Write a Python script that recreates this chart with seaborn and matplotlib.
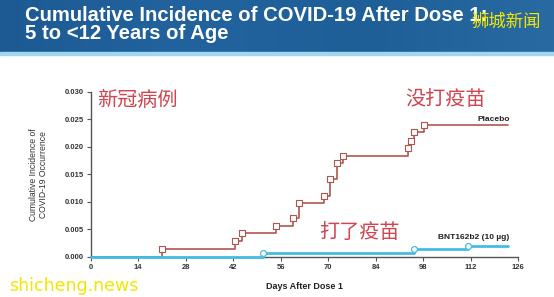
import numpy as np
import pandas as pd
import matplotlib
matplotlib.use("Agg")
import matplotlib.pyplot as plt
import seaborn as sns
from matplotlib.patches import Rectangle
from matplotlib.colors import LinearSegmentedColormap

# ---- data ----
placebo_days = [20.9, 42.5, 44.6, 54.7, 59.7, 61.4, 68.7, 70.7, 72.6, 74.5, 93.5, 94.4, 95.3, 98.4]
placebo_cum = [0.00135, 0.0028, 0.0043, 0.0056, 0.0070, 0.0098, 0.0111, 0.0141, 0.0170, 0.0183,
               0.0198, 0.0211, 0.0226, 0.0240]
vaccine_days = [50.9, 95.3, 111.3]
vaccine_cum = [0.0007, 0.0014, 0.0020]
end_day = 123
x_ticks = [0, 14, 28, 42, 56, 70, 84, 98, 112, 126]
y_ticks = [0.000, 0.005, 0.010, 0.015, 0.020, 0.025, 0.030]

sns.set_style("ticks")
plt.rcParams['font.family'] = ['Liberation Sans', 'DejaVu Sans']

W, H = 554, 297
fig = plt.figure(figsize=(W / 100, H / 100), dpi=100)
fig.patch.set_facecolor("white")

# ---- header band ----
hb = 53
hax = fig.add_axes([0, 1 - hb / H, 1, hb / H])
grad = np.linspace(0, 1, 256)[None, :]
cmap = LinearSegmentedColormap.from_list("hdr", ["#1d5a93", "#22639e", "#1f5f98", "#2a6aa2"])
hax.imshow(grad, aspect="auto", cmap=cmap, extent=[0, 1, 0, 1])
hax.set_axis_off()
fig.patches.append(Rectangle((0, 1 - (hb + 2) / H), 1, 2.5 / H, transform=fig.transFigure,
                             color="#9fd6f0", zorder=5))

fig.text(25 / W, 1 - 20.7 / H, "Cumulative Incidence of COVID-19 After Dose 1:",
         color="white", fontsize=14.6, fontweight="bold", va="baseline", ha="left", zorder=6)
fig.text(25 / W, 1 - 38.8 / H, "5 to <12 Years of Age",
         color="white", fontsize=14.6, fontweight="bold", va="baseline", ha="left", zorder=6)
fig.text(506 / W, 1 - 21.5 / H, "狮城新闻", color="#f4e600", fontsize=12.5,
         family=['Noto Sans CJK SC', 'DejaVu Sans'], ha="center", va="center", zorder=7)

# ---- data frames ----
def step_frame(days, cum, name):
    d = [0] + list(days) + [end_day]
    c = [0] + list(cum) + [cum[-1]]
    return pd.DataFrame({"day": d, "cum": c, "group": name})

pl = step_frame(placebo_days, placebo_cum, "Placebo")
va = step_frame(vaccine_days, vaccine_cum, "BNT162b2 (10 µg)")
ev_pl = pd.DataFrame({"day": placebo_days, "cum": placebo_cum})
ev_va = pd.DataFrame({"day": vaccine_days, "cum": vaccine_cum})

pl_col = "#b0564e"
va_col = "#45bde0"

ax = fig.add_axes([90.7 / W, 1 - 256.7 / H, (518 - 90.7) / W, (256.7 - 91.7) / H])
sns.lineplot(data=va, x="day", y="cum", ax=ax, color=va_col, lw=2.0, drawstyle="steps-post",
             estimator=None, sort=False, clip_on=False, zorder=3)
sns.lineplot(data=pl, x="day", y="cum", ax=ax, color=pl_col, lw=1.2, drawstyle="steps-post",
             estimator=None, sort=False, clip_on=False, zorder=2)
sns.scatterplot(data=ev_pl, x="day", y="cum", ax=ax, marker="s", s=16, facecolor="white",
                edgecolor=pl_col, linewidth=0.8, zorder=4, clip_on=False)
sns.scatterplot(data=ev_va, x="day", y="cum", ax=ax, marker="o", s=18, facecolor="white",
                edgecolor=va_col, linewidth=0.9, zorder=4, clip_on=False)

ax.set_xlim(0, 126)
ax.set_ylim(0, 0.030)
ax.set_xticks(x_ticks)
ax.set_yticks(y_ticks)
ax.set_xticklabels([str(t) for t in x_ticks])
ax.set_yticklabels([f"{t:.3f}" for t in y_ticks])
for s in ["top", "right"]:
    ax.spines[s].set_visible(False)
for s in ["left", "bottom"]:
    ax.spines[s].set_color("#555555")
    ax.spines[s].set_linewidth(1.0)
ax.tick_params(axis="both", direction="out", length=3, width=0.8, color="#555555",
               labelsize=5.5, labelcolor="#333333", pad=2)
for lab in ax.get_xticklabels() + ax.get_yticklabels():
    lab.set_fontweight("bold")
ax.set_xlabel("Days After Dose 1", fontsize=6.5, fontweight="bold", color="#222222", labelpad=8)
ax.set_ylabel("Cumulative Incidence of\nCOVID-19 Occurrence", fontsize=6.2, color="#333333",
              labelpad=12, linespacing=1.1)
if ax.legend_:
    ax.legend_.remove()
ax.set_facecolor("none")

ax.text(123.5, 0.0243, "Placebo", fontsize=6, fontweight="bold", color="#222222",
        ha="right", va="bottom")
ax.text(123.5, 0.0028, "BNT162b2 (10 µg)", fontsize=6, fontweight="bold", color="#222222",
        ha="right", va="bottom")

cjk = ['Noto Sans CJK SC', 'DejaVu Sans']
red = "#d0454f"
fig.text(137 / W, 1 - 101 / H, "新冠病例", color=red, fontsize=14.5, family=cjk, ha="center", va="center")
fig.text(445 / W, 1 - 99.5 / H, "没打疫苗", color=red, fontsize=14.5, family=cjk, ha="center", va="center")
fig.text(359 / W, 1 - 232 / H, "打了疫苗", color=red, fontsize=14.5, family=cjk, ha="center", va="center")

fig.text(9 / W, 1 - 286 / H, "shicheng.news", color="#f4e600", fontsize=12.5,
         family=['DejaVu Sans'], ha="left", va="center")

fig.savefig("out.png", dpi=100)
